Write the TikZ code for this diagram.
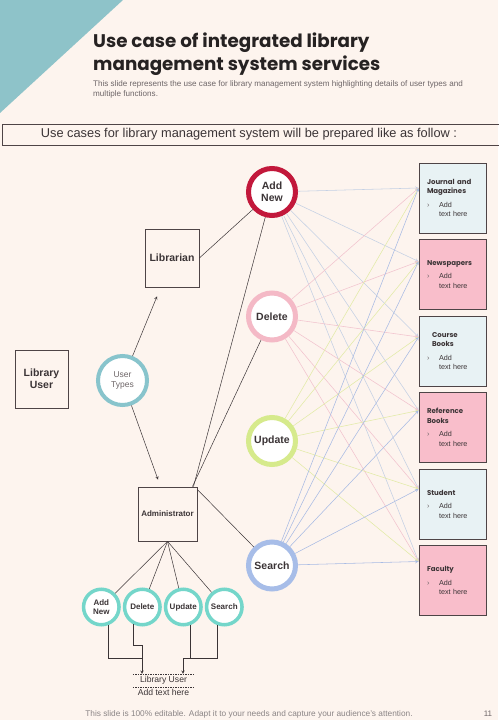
\documentclass[tikz,border=0pt]{standalone}
\usepackage{fontspec}
\setmainfont{Liberation Sans}
\newfontfamily\headfont{Poppins}
\usepackage{xcolor}
\usepackage{tikz}
\usetikzlibrary{arrows}
\usetikzlibrary{positioning}
\usetikzlibrary{shapes.geometric}

\definecolor{slidebg}{HTML}{FDF4EE}
\definecolor{corner}{HTML}{8EC3C9}
\definecolor{titleink}{HTML}{262222}
\definecolor{ink}{HTML}{3B3436}
\definecolor{softink}{HTML}{6E6668}
\definecolor{boxline}{HTML}{4E4446}
\definecolor{paleblue}{HTML}{E8F2F4}
\definecolor{palepink}{HTML}{F9BECB}
\definecolor{addring}{HTML}{C2183B}
\definecolor{delring}{HTML}{F4B9C6}
\definecolor{updring}{HTML}{D6EA8C}
\definecolor{srchring}{HTML}{A7BDE8}
\definecolor{typering}{HTML}{88C4CC}
\definecolor{minring}{HTML}{74D6CA}
\definecolor{addline}{HTML}{C4D0E4}
\definecolor{delline}{HTML}{F2C3CE}
\definecolor{updline}{HTML}{E2EBA6}
\definecolor{srchline}{HTML}{A8BBE4}

\tikzstyle{heading} = [anchor=base west, inner sep=0pt, text=titleink, font=\headfont\bfseries\fontsize{18.3}{21}\selectfont]
\tikzstyle{subline} = [anchor=base west, inner sep=0pt, text=softink, font=\fontsize{8.1}{9}\selectfont]
\tikzstyle{actor} = [rectangle, draw=boxline, line width=0.8pt, text=ink, align=center, font=\fontsize{10.5}{12.5}\selectfont\bfseries]
\tikzstyle{usecase} = [circle, fill=white, line width=5pt, minimum size=47pt, inner sep=0pt, text=ink, align=center, font=\fontsize{10.5}{12.5}\selectfont\bfseries]
\tikzstyle{minicase} = [circle, fill=white, draw=minring, line width=3.5pt, minimum size=35.5pt, inner sep=0pt, text=ink, align=center, font=\fontsize{8}{9}\selectfont\bfseries]
\tikzstyle{item} = [rectangle, draw=boxline, line width=0.8pt, minimum width=67pt, minimum height=70pt, text width=51pt, align=left, text=ink, font=\fontsize{7.2}{9.5}\selectfont]
\tikzstyle{arrow} = [->, >=stealth, draw=ink, line width=0.5pt]
\tikzstyle{link} = [->, >=stealth, line width=0.55pt]

\newcommand{\itemtext}[1]{{\headfont\bfseries\fontsize{7}{10}\selectfont #1}\par\vspace{4pt}\makebox[12pt][l]{\color{softink}›}Add\par\hspace*{12pt}text here}

\begin{document}
\begin{tikzpicture}[x=1pt, y=1pt]
    \useasboundingbox (0,0) rectangle (498,720);
    \fill[slidebg] (0,0) rectangle (498,720);
    \fill[corner] (0,720) -- (123,720) -- (0,607) -- cycle;
    \node(title1)[heading] at (93,672) {Use case of integrated library};
    \node(title2)[heading] at (93,649) {management system services};
    \node(sub1)[subline] at (93,633) {This slide represents the use case for library management system highlighting details of user types and};
    \node(sub2)[subline] at (93,623) {multiple functions.};
    \draw[boxline, line width=0.8pt] (2,575) rectangle (503,596);
    \node(banner)[text=ink, font=\fontsize{12.8}{14}\selectfont] at (249,585.5) {Use cases for library management system will be prepared like as follow :};
    %
    \node(libuser)[actor, minimum width=53pt, minimum height=58pt] at (41.5,341) {Library\\User};
    \node(usertypes)[circle, fill=white, draw=typering, line width=4pt, minimum size=49pt, inner sep=0pt, text=softink, align=center, font=\fontsize{8.5}{10}\selectfont] at (122.5,339.5) {User\\Types};
    \node(librarian)[actor, minimum width=54pt, minimum height=58pt] at (172,462) {Librarian};
    \node(admin)[actor, minimum width=59pt, minimum height=54pt, font=\fontsize{8}{9}\selectfont\bfseries] at (167.5,206) {Administrator};
    \coordinate(libin) at ([xshift=-15pt, yshift=-9pt]librarian.south);
    \coordinate(adminin) at ([xshift=-9.5pt, yshift=7pt]admin.north);
    %
    \node(addnew)[usecase, draw=addring] at (272,528) {Add\\New};
    \node(delete)[usecase, draw=delring, node distance=124.5pt, below of=addnew] {Delete};
    \node(update)[usecase, draw=updring, node distance=124.5pt, below of=delete] {Update};
    \node(search)[usecase, draw=srchring, node distance=124.5pt, below of=update] {Search};
    %
    \node(jm)[item, fill=paleblue] at (452.5,522) {\itemtext{Journal and\\Magazines}};
    \node(np)[item, fill=palepink, node distance=76.5pt, below of=jm] {\itemtext{Newspapers}};
    \node(cb)[item, fill=paleblue, node distance=76.5pt, below of=np] {\itemtext{\hspace*{5pt}Course\\\hspace*{5pt}Books}};
    \node(rb)[item, fill=palepink, node distance=76.5pt, below of=cb] {\itemtext{Reference\\Books}};
    \node(st)[item, fill=paleblue, node distance=76.5pt, below of=rb] {\itemtext{Student}};
    \node(fc)[item, fill=palepink, node distance=76.5pt, below of=st] {\itemtext{Faculty}};
    %
    \foreach \src/\col in {addnew/addline, delete/delline, update/updline, search/srchline}
      \foreach \dst/\off in {jm/10, np/13, cb/14, rb/17, st/15, fc/19}
        \draw[link, draw=\col] (\src) -- ([yshift=\off pt]\dst.west);
    %
    \draw[arrow](usertypes) -- (libin);
    \draw[arrow](usertypes) -- (adminin);
    \draw[draw=ink, line width=0.5pt](librarian.east) -- (addnew);
    \draw[draw=ink, line width=0.5pt]([xshift=-4pt]admin.north east) -- (addnew);
    \draw[draw=ink, line width=0.5pt]([xshift=-5pt]admin.north east) -- (delete);
    \draw[draw=ink, line width=0.5pt]([yshift=-3pt]admin.north east) -- (search);
    %
    \node(an2)[minicase] at (101.3,113) {Add\\New};
    \node(dl2)[minicase, node distance=41pt, right of=an2] {Delete};
    \node(up2)[minicase, node distance=41pt, right of=dl2] {Update};
    \node(sr2)[minicase, node distance=41pt, right of=up2] {Search};
    \foreach \m in {an2, dl2, up2, sr2}
      \draw[draw=ink, line width=0.5pt](admin.south) -- (\m);
    %
    \node(lu)[minimum width=61pt, minimum height=13pt, inner sep=0pt, text=ink, font=\fontsize{8.6}{10}\selectfont] at (163.5,39.5) {Library User};
    \draw[draw=ink, line width=0.5pt, dash pattern=on 1.5pt off 1pt](lu.north west) -- (lu.north east);
    \draw[draw=ink, line width=0.5pt, dash pattern=on 1.5pt off 1pt](lu.south west) -- (lu.south east);
    \node(lutext)[below=1.5pt of lu, inner sep=0pt, text=ink, font=\fontsize{8.6}{10}\selectfont] {Add text here};
    \coordinate(luL) at ([xshift=-21.5pt]lu.north);
    \coordinate(luR) at ([xshift=19.5pt]lu.north);
    \coordinate(luLj) at ([yshift=16pt]luL);
    \coordinate(luRj) at ([yshift=16pt]luR);
    \draw[arrow](an2.-70) |- (luLj) -- (luL);
    \draw[draw=ink, line width=0.5pt](dl2.-118) |- ([yshift=29pt]luL) -- (luLj);
    \draw[arrow](sr2.-112) |- (luRj) -- (luR);
    \draw[draw=ink, line width=0.5pt](up2.-70) -- (up2.-70 |- luRj);
    %
    \node(footer)[anchor=base, inner sep=0pt, text=softink!80, font=\fontsize{8.3}{9}\selectfont] at (249,4) {This slide is 100\% editable. Adapt it to your needs and capture your audience’s attention.};
    \node(pageno)[anchor=base, inner sep=0pt, text=softink, font=\fontsize{8}{9}\selectfont] at (488,4) {11};
\end{tikzpicture}
\end{document}
